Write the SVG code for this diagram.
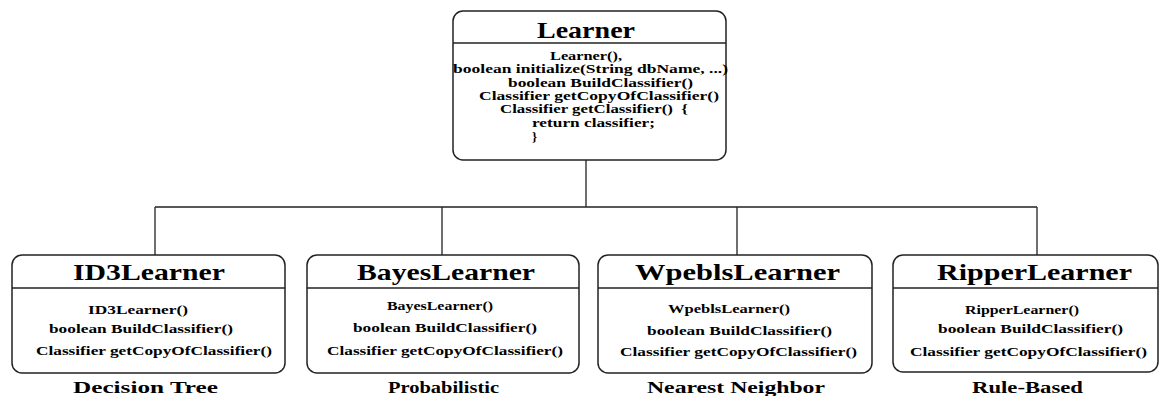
<svg xmlns="http://www.w3.org/2000/svg" width="1160" height="396" viewBox="0 0 1160 396">
<style>
.box{fill:#fff;stroke:#222;stroke-width:1.5}
.div{stroke:#222;stroke-width:1.3}
.conn{stroke:#222;stroke-width:1.3;fill:none}
text{font-family:"Liberation Serif","Times New Roman",serif;font-weight:bold;fill:#000}
.t{font-size:23px}
.m{font-size:13px}
.l{font-size:17.5px}
</style>
<rect width="1160" height="396" fill="#fff"/>
<g id="connectors">
<path class="conn" d="M586 160V207M155 207H1037M155 207V255M442 207V255M737 207V255M1037 207V255"/>
</g>
<g id="learner">
<rect class="box" x="453" y="11" width="273" height="149" rx="10"/>
<line class="div" x1="453" y1="43" x2="726" y2="43"/>
<text class="t" x="537" y="38" textLength="98" lengthAdjust="spacingAndGlyphs">Learner</text>
<text class="m" x="550" y="60" textLength="72" lengthAdjust="spacingAndGlyphs">Learner(),</text>
<text class="m" x="453" y="73" textLength="275" lengthAdjust="spacingAndGlyphs">boolean initialize(String dbName, ...)</text>
<text class="m" x="508" y="87" textLength="185" lengthAdjust="spacingAndGlyphs">boolean BuildClassifier()</text>
<text class="m" x="479" y="100" textLength="240" lengthAdjust="spacingAndGlyphs">Classifier getCopyOfClassifier()</text>
<text class="m" x="500" y="113" textLength="188" lengthAdjust="spacingAndGlyphs">Classifier getClassifier()&#160; {</text>
<text class="m" x="532" y="127" textLength="123" lengthAdjust="spacingAndGlyphs">return classifier;</text>
<text class="m" x="532" y="141">}</text>
</g>
<g id="id3">
<rect class="box" x="12" y="255" width="273" height="118" rx="10"/>
<line class="div" x1="12" y1="288" x2="285" y2="288"/>
<text class="t" x="73" y="280" textLength="152" lengthAdjust="spacingAndGlyphs">ID3Learner</text>
<text class="m" x="88" y="314" textLength="100" lengthAdjust="spacingAndGlyphs">ID3Learner()</text>
<text class="m" x="49" y="333" textLength="184" lengthAdjust="spacingAndGlyphs">boolean BuildClassifier()</text>
<text class="m" x="36" y="355" textLength="236" lengthAdjust="spacingAndGlyphs">Classifier getCopyOfClassifier()</text>
<text class="l" x="73" y="393" textLength="145" lengthAdjust="spacingAndGlyphs">Decision Tree</text>
</g>
<g id="bayes">
<rect class="box" x="307" y="255" width="272" height="118" rx="10"/>
<line class="div" x1="307" y1="288" x2="579" y2="288"/>
<text class="t" x="357" y="280" textLength="178" lengthAdjust="spacingAndGlyphs">BayesLearner</text>
<text class="m" x="387" y="310" textLength="106" lengthAdjust="spacingAndGlyphs">BayesLearner()</text>
<text class="m" x="353" y="332" textLength="184" lengthAdjust="spacingAndGlyphs">boolean BuildClassifier()</text>
<text class="m" x="327" y="355" textLength="236" lengthAdjust="spacingAndGlyphs">Classifier getCopyOfClassifier()</text>
<text class="l" x="388" y="393" textLength="111" lengthAdjust="spacingAndGlyphs">Probabilistic</text>
</g>
<g id="wpebls">
<rect class="box" x="598" y="255" width="274" height="118" rx="10"/>
<line class="div" x1="598" y1="288" x2="872" y2="288"/>
<text class="t" x="635" y="280" textLength="205" lengthAdjust="spacingAndGlyphs">WpeblsLearner</text>
<text class="m" x="668" y="313" textLength="122" lengthAdjust="spacingAndGlyphs">WpeblsLearner()</text>
<text class="m" x="647" y="335" textLength="185" lengthAdjust="spacingAndGlyphs">boolean BuildClassifier()</text>
<text class="m" x="620" y="356" textLength="237" lengthAdjust="spacingAndGlyphs">Classifier getCopyOfClassifier()</text>
<text class="l" x="647" y="393" textLength="178" lengthAdjust="spacingAndGlyphs">Nearest Neighbor</text>
</g>
<g id="ripper">
<rect class="box" x="893" y="255" width="265" height="117" rx="10"/>
<line class="div" x1="893" y1="288" x2="1158" y2="288"/>
<text class="t" x="937" y="280" textLength="195" lengthAdjust="spacingAndGlyphs">RipperLearner</text>
<text class="m" x="965" y="314" textLength="114" lengthAdjust="spacingAndGlyphs">RipperLearner()</text>
<text class="m" x="938" y="333" textLength="185" lengthAdjust="spacingAndGlyphs">boolean BuildClassifier()</text>
<text class="m" x="910" y="356" textLength="237" lengthAdjust="spacingAndGlyphs">Classifier getCopyOfClassifier()</text>
<text class="l" x="972" y="393" textLength="111" lengthAdjust="spacingAndGlyphs">Rule-Based</text>
</g>
</svg>
